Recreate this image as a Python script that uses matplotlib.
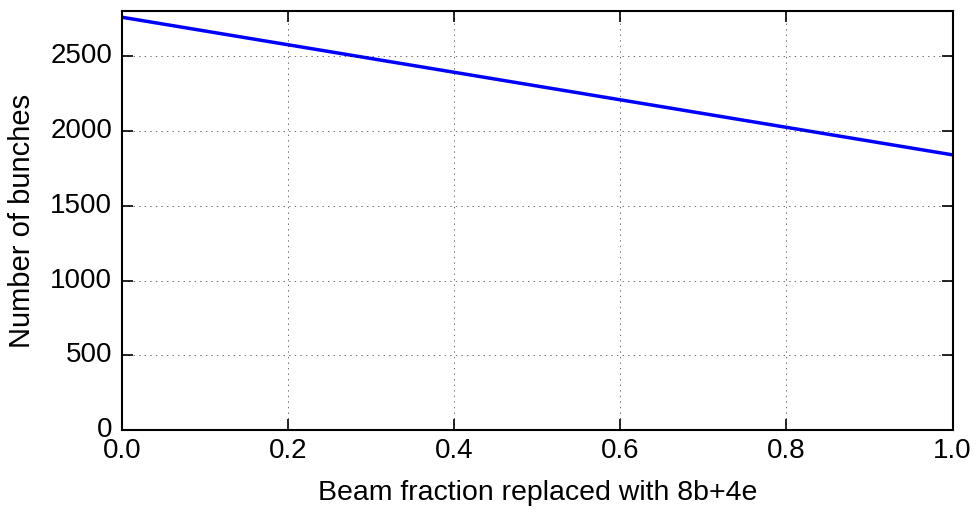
import matplotlib
matplotlib.use("Agg")
import matplotlib.pyplot as plt

# beam fraction vs number of bunches (straight line)
fraction = [0.0, 1.0]
bunches = [2760, 1840]

plt.style.use("classic")
plt.rcParams["font.family"] = ["Liberation Sans", "DejaVu Sans"]

fig = plt.figure(figsize=(9.76, 5.12), dpi=100)
ax = fig.add_axes([0.125, 0.16, 0.851, 0.818])

ax.plot(fraction, bunches, color="blue", linewidth=2.5)

ax.set_xlim(0, 1)
ax.set_ylim(0, 2800)
ax.set_yticks([0, 500, 1000, 1500, 2000, 2500])
ax.grid(True, linestyle=":", color="black", alpha=0.8)
ax.tick_params(labelsize=20, direction="in", length=8, width=1.2)
ax.tick_params(axis="x", pad=6)
ax.tick_params(axis="y", pad=7)
for s in ax.spines.values():
    s.set_linewidth(1.5)

ax.set_xlabel("Beam fraction replaced with 8b+4e", fontsize=20.5, labelpad=11)
ax.set_ylabel("Number of bunches", fontsize=21, labelpad=10)

fig.savefig("out.png", dpi=100)
